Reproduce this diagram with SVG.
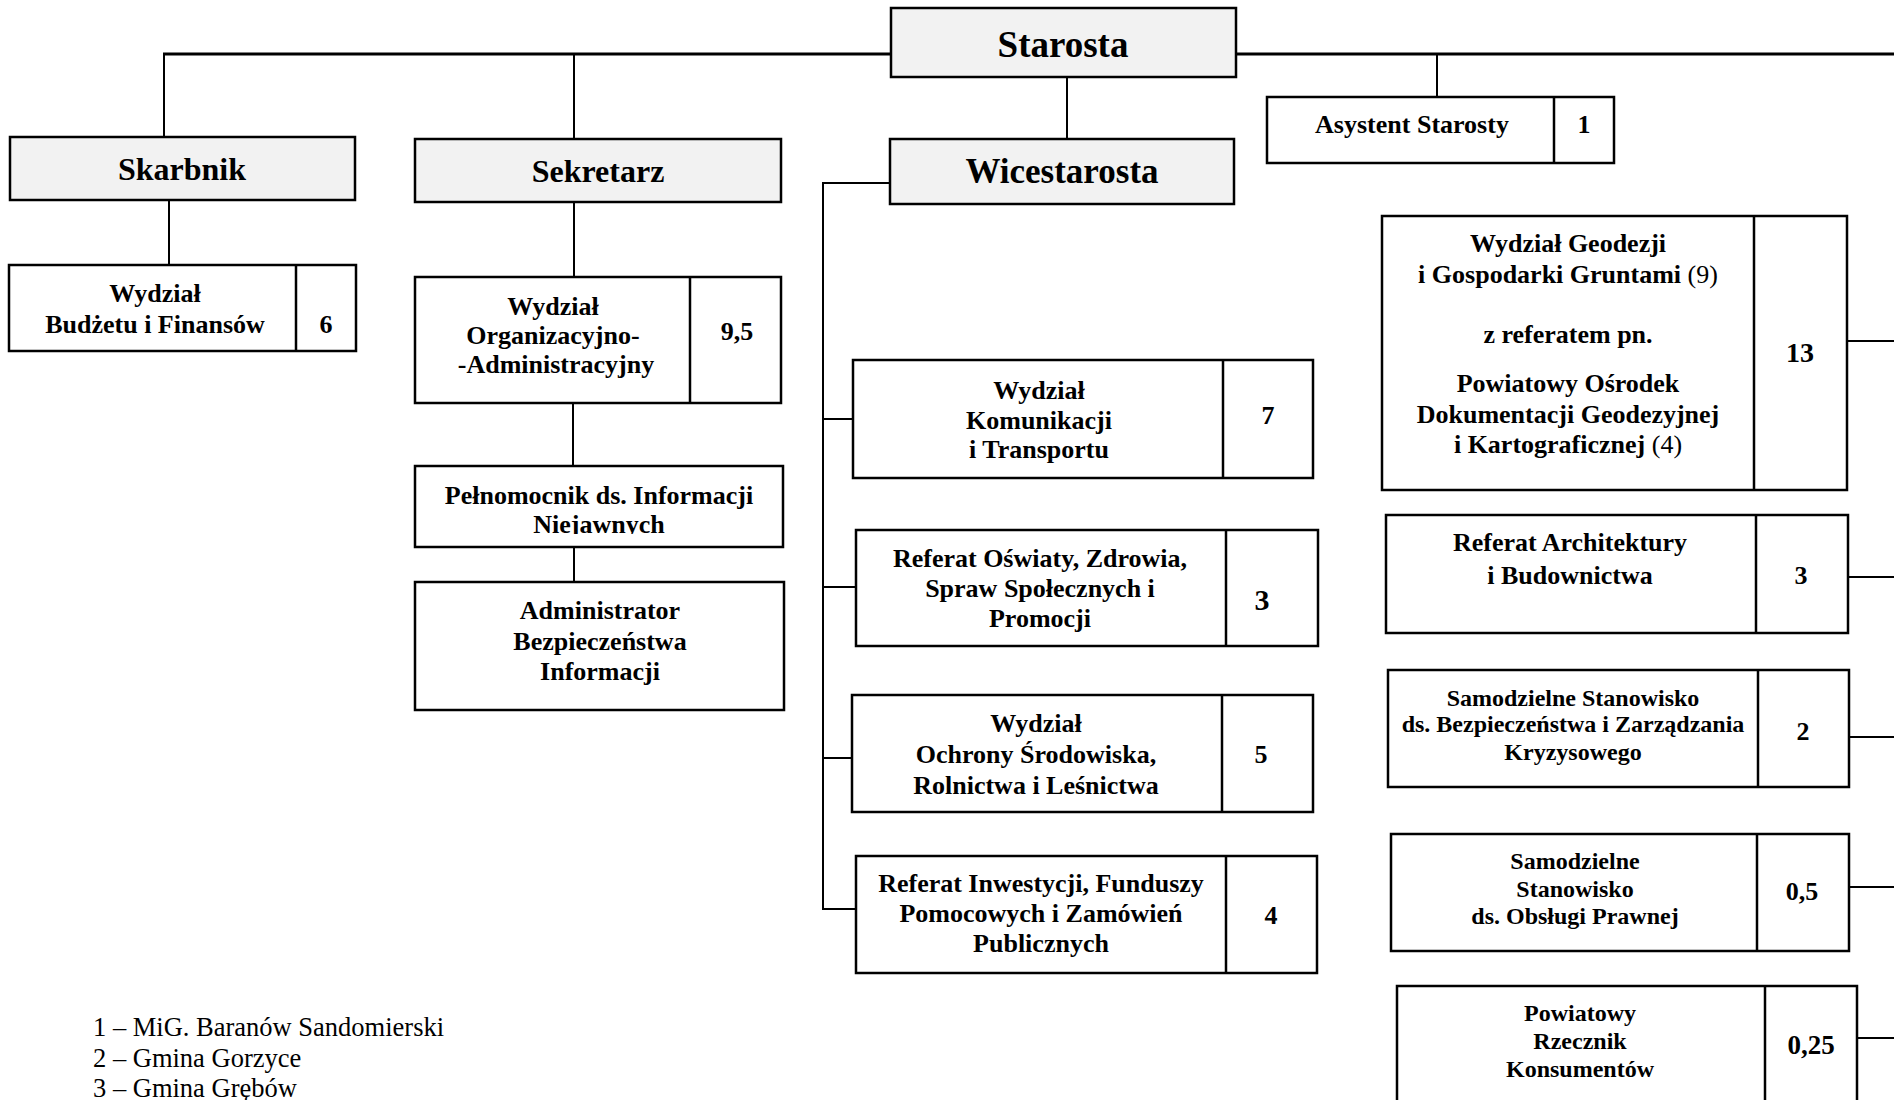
<svg xmlns="http://www.w3.org/2000/svg" width="1894" height="1100" viewBox="0 0 1894 1100">
<style>
text{font-family:"Liberation Serif","Times New Roman",serif;font-weight:bold;fill:#000;text-anchor:middle}
.t{font-size:26px}
.s{font-size:24px}
.h{font-size:32px}
.n{font-size:26px}
.reg{font-weight:normal}
.box{fill:#fff;stroke:#000;stroke-width:2.5}
.head{fill:#f2f2f2;stroke:#000;stroke-width:2.5}
.div{stroke:#000;stroke-width:2.5}
.c{stroke:#000;stroke-width:2;fill:none}
.top{stroke:#000;stroke-width:3;fill:none}
.foot{font-weight:normal;font-size:26.5px;text-anchor:start}
</style>
<defs>
<clipPath id="clipNiej"><rect x="415" y="466" width="368" height="68"/></clipPath>
</defs>

<g id="connectors">
<path class="top" d="M163 54 H891 M1236 54 H1894"/>
<path class="c" d="M164 54 V137"/>
<path class="c" d="M574 54 V139"/>
<path class="c" d="M1437 54 V97"/>
<path class="c" d="M1067 77 V139"/>
<path class="c" d="M169 200 V265"/>
<path class="c" d="M574 202 V277"/>
<path class="c" d="M573 403 V466"/>
<path class="c" d="M574 547 V582"/>
<path class="c" d="M890 183 H823 V909 H856"/>
<path class="c" d="M823 419 H853"/>
<path class="c" d="M823 587 H856"/>
<path class="c" d="M823 758 H852"/>
<path class="c" d="M1847 341 H1894"/>
<path class="c" d="M1848 577 H1894"/>
<path class="c" d="M1849 737 H1894"/>
<path class="c" d="M1849 887 H1894"/>
<path class="c" d="M1857 1038 H1894"/>
</g>

<g id="starosta">
<rect class="head" x="891" y="8" width="345" height="69"/>
<text x="1063" y="57" style="font-size:37px">Starosta</text>
</g>

<g id="skarbnik">
<rect class="head" x="10" y="137" width="345" height="63"/>
<text class="h" x="182" y="180">Skarbnik</text>
</g>

<g id="sekretarz">
<rect class="head" x="415" y="139" width="366" height="63"/>
<text class="h" x="598" y="182">Sekretarz</text>
</g>

<g id="wicestarosta">
<rect class="head" x="890" y="139" width="344" height="65"/>
<text x="1062" y="183" style="font-size:35px">Wicestarosta</text>
</g>

<g id="asystent">
<rect class="box" x="1267" y="97" width="347" height="66"/>
<line class="div" x1="1554" y1="97" x2="1554" y2="163"/>
<text class="t" x="1412" y="133">Asystent Starosty</text>
<text class="n" x="1584" y="133">1</text>
</g>

<g id="budzet">
<rect class="box" x="9" y="265" width="347" height="86"/>
<line class="div" x1="296" y1="265" x2="296" y2="351"/>
<text class="t" x="155" y="302">Wydział</text>
<text class="t" x="155" y="333">Budżetu i Finansów</text>
<text class="n" x="326" y="333">6</text>
</g>

<g id="organizacyjny">
<rect class="box" x="415" y="277" width="366" height="126"/>
<line class="div" x1="690" y1="277" x2="690" y2="403"/>
<text class="t" x="553" y="315">Wydział</text>
<text class="t" x="553" y="344">Organizacyjno-</text>
<text class="t" x="556" y="373">-Administracyjny</text>
<text class="n" x="737" y="340">9,5</text>
</g>

<g id="pelnomocnik">
<rect class="box" x="415" y="466" width="368" height="81"/>
<g clip-path="url(#clipNiej)">
<text class="t" x="599" y="504">Pełnomocnik ds. Informacji</text>
<text class="t" x="599" y="533">Niejawnych</text>
</g>
</g>

<g id="administrator">
<rect class="box" x="415" y="582" width="369" height="128"/>
<text class="t" x="600" y="619">Administrator</text>
<text class="t" x="600" y="650">Bezpieczeństwa</text>
<text class="t" x="600" y="680">Informacji</text>
</g>

<g id="komunikacji">
<rect class="box" x="853" y="360" width="460" height="118"/>
<line class="div" x1="1223" y1="360" x2="1223" y2="478"/>
<text class="t" x="1039" y="399">Wydział</text>
<text class="t" x="1039" y="429">Komunikacji</text>
<text class="t" x="1039" y="458">i Transportu</text>
<text class="n" x="1268" y="424">7</text>
</g>

<g id="oswiaty">
<rect class="box" x="856" y="530" width="462" height="116"/>
<line class="div" x1="1226" y1="530" x2="1226" y2="646"/>
<text class="t" x="1040" y="567">Referat Oświaty, Zdrowia,</text>
<text class="t" x="1040" y="597">Spraw Społecznych i</text>
<text class="t" x="1040" y="627">Promocji</text>
<text x="1262" y="610" style="font-size:30px">3</text>
</g>

<g id="ochrony">
<rect class="box" x="852" y="695" width="461" height="117"/>
<line class="div" x1="1222" y1="695" x2="1222" y2="812"/>
<text class="t" x="1036" y="732">Wydział</text>
<text class="t" x="1036" y="763">Ochrony Środowiska,</text>
<text class="t" x="1036" y="794">Rolnictwa i Leśnictwa</text>
<text class="n" x="1261" y="763">5</text>
</g>

<g id="inwestycji">
<rect class="box" x="856" y="856" width="461" height="117"/>
<line class="div" x1="1226" y1="856" x2="1226" y2="973"/>
<text class="t" x="1041" y="892">Referat Inwestycji, Funduszy</text>
<text class="t" x="1041" y="922">Pomocowych i Zamówień</text>
<text class="t" x="1041" y="952">Publicznych</text>
<text class="n" x="1271" y="924">4</text>
</g>

<g id="geodezji">
<rect class="box" x="1382" y="216" width="465" height="274"/>
<line class="div" x1="1754" y1="216" x2="1754" y2="490"/>
<text class="t" x="1568" y="252">Wydział Geodezji</text>
<text class="t" x="1568" y="283">i Gospodarki Gruntami<tspan class="reg"> (9)</tspan></text>
<text class="t" x="1568" y="343">z referatem pn.</text>
<text class="t" x="1568" y="392">Powiatowy Ośrodek</text>
<text class="t" x="1568" y="423">Dokumentacji Geodezyjnej</text>
<text class="t" x="1568" y="453">i Kartograficznej<tspan class="reg"> (4)</tspan></text>
<text x="1800" y="362" style="font-size:28px">13</text>
</g>

<g id="architektury">
<rect class="box" x="1386" y="515" width="462" height="118"/>
<line class="div" x1="1756" y1="515" x2="1756" y2="633"/>
<text class="t" x="1570" y="551">Referat Architektury</text>
<text class="t" x="1570" y="584">i Budownictwa</text>
<text class="n" x="1801" y="584">3</text>
</g>

<g id="kryzysowe">
<rect class="box" x="1388" y="670" width="461" height="117"/>
<line class="div" x1="1758" y1="670" x2="1758" y2="787"/>
<text class="s" x="1573" y="706">Samodzielne Stanowisko</text>
<text class="s" x="1573" y="732">ds. Bezpieczeństwa i Zarządzania</text>
<text class="s" x="1573" y="760">Kryzysowego</text>
<text class="n" x="1803" y="740">2</text>
</g>

<g id="prawna">
<rect class="box" x="1391" y="834" width="458" height="117"/>
<line class="div" x1="1757" y1="834" x2="1757" y2="951"/>
<text class="s" x="1575" y="869">Samodzielne</text>
<text class="s" x="1575" y="897">Stanowisko</text>
<text class="s" x="1575" y="924">ds. Obsługi Prawnej</text>
<text class="n" x="1802" y="900">0,5</text>
</g>

<g id="rzecznik">
<rect class="box" x="1397" y="986" width="460" height="130"/>
<line class="div" x1="1765" y1="986" x2="1765" y2="1116"/>
<text class="s" x="1580" y="1021">Powiatowy</text>
<text class="s" x="1580" y="1049">Rzecznik</text>
<text class="s" x="1580" y="1077">Konsumentów</text>
<text x="1811" y="1054" style="font-size:27px">0,25</text>
</g>

<g id="legend">
<text class="foot" x="93" y="1036">1 – MiG. Baranów Sandomierski</text>
<text class="foot" x="93" y="1067">2 – Gmina Gorzyce</text>
<text class="foot" x="93" y="1097">3 – Gmina Grębów</text>
</g>
</svg>
